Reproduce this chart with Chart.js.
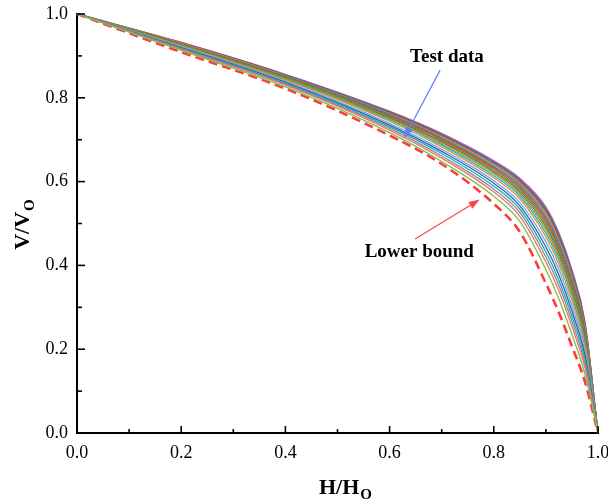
<!DOCTYPE html>
<html><head><meta charset="utf-8">
<script src="https://cdn.jsdelivr.net/npm/chart.js@4"></script>
<style>
html,body{margin:0;padding:0;overflow:hidden;background:#fff;width:608px;height:504px}
#wrap{position:absolute;left:0;top:0;width:640px;height:504px}
</style>
</head><body><div id="wrap"><canvas id="c" width="640" height="504"></canvas></div>
<script>
// H/Ho sample positions shared by all series
const H = [0, 0.2, 0.4, 0.6, 0.7, 0.8, 0.85, 0.9, 0.925, 0.95, 0.975, 1.0];
// Lower bound (red dashed)
const lowerBound = [1, 0.909, 0.822, 0.710, 0.642, 0.547, 0.480, 0.357, 0.287, 0.207, 0.122, 0];
// Test data curves, bottom to top
const test01 = [1, 0.913, 0.826, 0.717, 0.648, 0.565, 0.505, 0.390, 0.320, 0.235, 0.140, 0];
const test02 = [1, 0.915, 0.830, 0.723, 0.656, 0.575, 0.517, 0.408, 0.339, 0.254, 0.155, 0];
const test03 = [1, 0.917, 0.832, 0.727, 0.661, 0.582, 0.526, 0.420, 0.352, 0.266, 0.165, 0];
const test04 = [1, 0.918, 0.834, 0.731, 0.667, 0.589, 0.534, 0.432, 0.364, 0.278, 0.175, 0];
const test05 = [1, 0.920, 0.837, 0.735, 0.672, 0.596, 0.542, 0.444, 0.377, 0.291, 0.185, 0];
const test06 = [1, 0.921, 0.839, 0.739, 0.677, 0.602, 0.550, 0.456, 0.390, 0.303, 0.195, 0];
const test07 = [1, 0.923, 0.842, 0.744, 0.683, 0.609, 0.559, 0.468, 0.402, 0.316, 0.205, 0];
const test08 = [1, 0.924, 0.843, 0.747, 0.687, 0.614, 0.565, 0.477, 0.412, 0.325, 0.213, 0];
const test09 = [1, 0.925, 0.845, 0.749, 0.690, 0.619, 0.570, 0.485, 0.420, 0.333, 0.219, 0];
const test10 = [1, 0.926, 0.846, 0.752, 0.694, 0.623, 0.575, 0.492, 0.427, 0.340, 0.225, 0];
const test11 = [1, 0.927, 0.848, 0.754, 0.696, 0.626, 0.579, 0.498, 0.434, 0.347, 0.230, 0];
const test12 = [1, 0.927, 0.849, 0.756, 0.699, 0.630, 0.583, 0.504, 0.440, 0.353, 0.235, 0];
const test13 = [1, 0.928, 0.850, 0.758, 0.702, 0.633, 0.587, 0.510, 0.446, 0.359, 0.240, 0];
const test14 = [1, 0.929, 0.851, 0.760, 0.704, 0.636, 0.592, 0.516, 0.453, 0.365, 0.245, 0];
const test15 = [1, 0.930, 0.852, 0.761, 0.706, 0.639, 0.595, 0.521, 0.457, 0.370, 0.249, 0];
const test16 = [1, 0.930, 0.853, 0.763, 0.708, 0.642, 0.598, 0.525, 0.462, 0.375, 0.253, 0];
const test17 = [1, 0.931, 0.854, 0.764, 0.710, 0.644, 0.601, 0.530, 0.467, 0.379, 0.256, 0];
const test18 = [1, 0.931, 0.855, 0.766, 0.712, 0.647, 0.604, 0.534, 0.472, 0.384, 0.260, 0];
const test19 = [1, 0.932, 0.855, 0.767, 0.714, 0.648, 0.606, 0.537, 0.475, 0.387, 0.263, 0];
const test20 = [1, 0.932, 0.856, 0.768, 0.715, 0.650, 0.608, 0.540, 0.478, 0.390, 0.265, 0];
const testSeries = [test01,test02,test03,test04,test05,test06,test07,test08,test09,test10,
                    test11,test12,test13,test14,test15,test16,test17,test18,test19,test20];
const testColors = ['#7cc242','#e8737a','#8c8c8c','#27a5a5','#2a5cc8','#6ab0e0','#f08a24','#21b5d5',
                    '#9a9a2a','#8a6a35','#4aa84a','#d9443a','#7d7535','#3a78c8','#e8912a','#708090',
                    '#8b5a2b','#4070d0','#e04040','#b884f0'];
const tickValues = [0, 0.2, 0.4, 0.6, 0.8, 1.0];

const toPts = arr => arr.map((v, i) => ({x: H[i], y: v}));

const datasets = testSeries.map((s, i) => ({
  label: 'Test ' + (i + 1), data: toPts(s), borderColor: testColors[i], borderWidth: 1.3,
  pointRadius: 0, cubicInterpolationMode: 'monotone', fill: false, clip: false
}));
datasets.push({
  label: 'Lower bound', data: toPts(lowerBound), borderColor: '#ff3b3b', borderWidth: 2.6,
  borderDash: [9, 5], pointRadius: 0, cubicInterpolationMode: 'monotone', fill: false, clip: false
});

const SERIF = '"Liberation Serif", "Times New Roman", serif';

function drawSubText(ctx, main, sub, cx, cy, size, subSize) {
  ctx.font = 'bold ' + size + 'px ' + SERIF;
  const w1 = ctx.measureText(main).width;
  ctx.font = 'bold ' + subSize + 'px ' + SERIF;
  const w2 = ctx.measureText(sub).width;
  const x0 = cx - (w1 + w2) / 2;
  ctx.textAlign = 'left'; ctx.textBaseline = 'alphabetic';
  ctx.font = 'bold ' + size + 'px ' + SERIF;
  ctx.fillText(main, x0, cy);
  ctx.font = 'bold ' + subSize + 'px ' + SERIF;
  ctx.fillText(sub, x0 + w1 + 1, cy + 5);
}

function arrow(ctx, x1, y1, x2, y2, color) {
  ctx.strokeStyle = color; ctx.fillStyle = color; ctx.lineWidth = 1.2;
  const a = Math.atan2(y2 - y1, x2 - x1), L = 11, W = 4;
  const bx = x2 - L * Math.cos(a), by = y2 - L * Math.sin(a);
  ctx.beginPath(); ctx.moveTo(x1, y1); ctx.lineTo(bx, by); ctx.stroke();
  ctx.beginPath(); ctx.moveTo(x2, y2);
  ctx.lineTo(bx + W * Math.sin(a), by - W * Math.cos(a));
  ctx.lineTo(bx - W * Math.sin(a), by + W * Math.cos(a));
  ctx.closePath(); ctx.fill();
}

// annotation anchors in data coordinates
const testLabelPos = {x: 0.71, y: 0.897};
const testArrow = [0.697, 0.866, 0.628, 0.704];
const lowerLabelPos = {x: 0.657, y: 0.432};
const lowerArrow = [0.649, 0.463, 0.773, 0.557];

const decor = {
  id: 'decor',
  afterDraw(chart) {
    const ctx = chart.ctx, xs = chart.scales.x, ys = chart.scales.y;
    const ax = xs.getPixelForValue(0), ay = ys.getPixelForValue(0);
    ctx.save();
    ctx.strokeStyle = '#000'; ctx.lineWidth = 1.6;
    for (let i = 0; i <= 10; i++) {
      const major = i % 2 === 0;
      const py = ys.getPixelForValue(i / 10);
      ctx.beginPath(); ctx.moveTo(ax, py); ctx.lineTo(ax + (major ? 8 : 5), py); ctx.stroke();
      const px = xs.getPixelForValue(i / 10);
      ctx.beginPath(); ctx.moveTo(px, ay); ctx.lineTo(px, ay - (major ? 7 : 4)); ctx.stroke();
    }
    ctx.fillStyle = '#000';
    // axis titles
    drawSubText(ctx, 'H/H', 'O', 345, 494, 22, 15);
    ctx.save(); ctx.translate(29, 225); ctx.rotate(-Math.PI / 2);
    drawSubText(ctx, 'V/V', 'O', 0, 0, 22, 15);
    ctx.restore();
    // annotations
    ctx.font = 'bold 19px ' + SERIF; ctx.textAlign = 'center'; ctx.textBaseline = 'middle';
    ctx.fillText('Test data', xs.getPixelForValue(testLabelPos.x), ys.getPixelForValue(testLabelPos.y));
    ctx.fillText('Lower bound', xs.getPixelForValue(lowerLabelPos.x), ys.getPixelForValue(lowerLabelPos.y));
    arrow(ctx, xs.getPixelForValue(testArrow[0]), ys.getPixelForValue(testArrow[1]),
          xs.getPixelForValue(testArrow[2]), ys.getPixelForValue(testArrow[3]), '#5f7bff');
    arrow(ctx, xs.getPixelForValue(lowerArrow[0]), ys.getPixelForValue(lowerArrow[1]),
          xs.getPixelForValue(lowerArrow[2]), ys.getPixelForValue(lowerArrow[3]), '#ff4545');
    ctx.restore();
  }
};

new Chart(document.getElementById('c'), {
  type: 'line',
  data: {datasets},
  plugins: [decor],
  options: {
    responsive: false, animation: false,
    layout: {padding: {left: 0, right: 42, top: 14, bottom: 0}},
    plugins: {legend: {display: false}, tooltip: {enabled: false}},
    scales: {
      x: {
        type: 'linear', min: 0, max: 1,
        afterBuildTicks: s => { s.ticks = tickValues.map(v => ({value: v})); },
        afterFit: s => { s.height = 71; s.paddingLeft = 0; s.paddingRight = 0; },
        ticks: {padding: 9, color: '#000', font: {family: SERIF, size: 18},
                callback: v => Number(v).toFixed(1), maxRotation: 0, autoSkip: false},
        grid: {drawOnChartArea: false, drawTicks: false},
        border: {display: true, color: '#000', width: 2}
      },
      y: {
        type: 'linear', min: 0, max: 1,
        afterBuildTicks: s => { s.ticks = tickValues.map(v => ({value: v})); },
        afterFit: s => { s.width = 77; s.paddingTop = 0; s.paddingBottom = 0; },
        ticks: {padding: 9, color: '#000', font: {family: SERIF, size: 18},
                callback: v => Number(v).toFixed(1), autoSkip: false},
        grid: {drawOnChartArea: false, drawTicks: false},
        border: {display: true, color: '#000', width: 2}
      }
    }
  }
});
</script>
</body></html>
